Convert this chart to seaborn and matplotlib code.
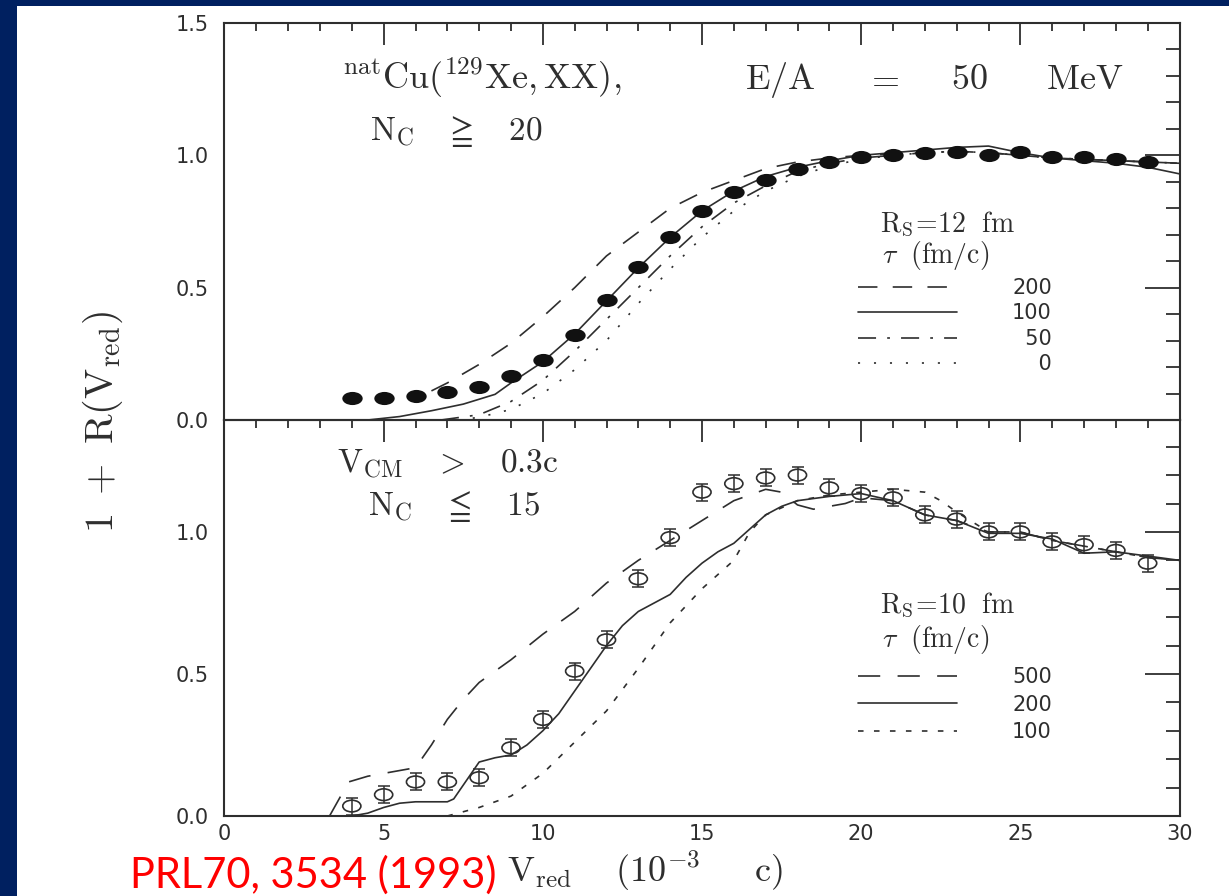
import matplotlib
matplotlib.use("Agg")
import matplotlib.pyplot as plt
import seaborn as sns
from matplotlib.path import Path
from matplotlib.patches import Rectangle
from matplotlib.ticker import MultipleLocator, FormatStrFormatter

# --- top panel: N_C >= 20, R_S = 12 fm ---
top_pts_x = [4, 5, 6, 7, 8, 9, 10, 11, 12, 13, 14, 15, 16, 17, 18, 19, 20, 21, 22, 23, 24, 25, 26, 27, 28, 29]
top_pts_y = [0.085, 0.085, 0.09, 0.105, 0.124, 0.168, 0.225, 0.32, 0.453, 0.578, 0.693, 0.79, 0.86,
             0.908, 0.948, 0.976, 0.995, 1.0, 1.008, 1.014, 1.0, 1.014, 0.995, 0.995, 0.986, 0.976]

top_x_200 = [6.5, 7, 8, 9, 10, 11, 12, 13, 14, 15, 16, 17, 18, 19, 20, 21, 22, 23, 24, 25, 26, 27, 28, 29, 30]
top_y_200 = [0.11, 0.14, 0.21, 0.29, 0.39, 0.50, 0.62, 0.71, 0.80, 0.86, 0.905, 0.95, 0.975, 0.99, 1.0,
             1.005, 1.01, 1.015, 1.01, 1.0, 0.99, 0.985, 0.98, 0.975, 0.97]
top_x_100 = [4.5, 5.5, 6.5, 7.5, 8.5, 9, 10, 11, 12, 13, 14, 15, 16, 17, 18, 19, 20, 21, 22, 23, 24, 25,
             26, 27, 28, 29, 30]
top_y_100 = [0.0, 0.013, 0.035, 0.06, 0.097, 0.14, 0.22, 0.325, 0.45, 0.575, 0.69, 0.79, 0.865, 0.92,
             0.955, 0.98, 1.0, 1.01, 1.02, 1.03, 1.035, 1.01, 0.99, 0.98, 0.97, 0.955, 0.93]
top_x_50 = [6.8, 8, 9, 10, 11, 12, 13, 14, 15, 16, 17, 18, 19, 20, 21, 22, 23, 24, 25, 26, 27, 28, 29, 30]
top_y_50 = [0.0, 0.02, 0.07, 0.15, 0.26, 0.38, 0.5, 0.62, 0.73, 0.82, 0.885, 0.94, 0.97, 0.99, 1.0,
            1.01, 1.015, 1.01, 1.0, 0.99, 0.985, 0.98, 0.975, 0.97]
top_x_0 = [7.3, 8, 9, 10, 11, 12, 13, 14, 15, 16, 17, 18, 19, 20, 21, 22, 23, 24, 25, 26, 27, 28, 29, 30]
top_y_0 = [0.0, 0.01, 0.04, 0.1, 0.19, 0.3, 0.44, 0.57, 0.69, 0.79, 0.865, 0.92, 0.96, 0.985, 1.0,
           1.01, 1.015, 1.01, 1.0, 0.99, 0.985, 0.98, 0.975, 0.97]
top_tau_labels = ["200", "100", "\u200750", "\u2007\u20070"]

# --- bottom panel: V_CM > 0.3c, N_C <= 15, R_S = 10 fm ---
bot_pts_x = [4, 5, 6, 7, 8, 9, 10, 11, 12, 13, 14, 15, 16, 17, 18, 19, 20, 21, 22, 23, 24, 25, 26, 27, 28, 29]
bot_pts_y = [0.035, 0.075, 0.12, 0.12, 0.135, 0.24, 0.34, 0.51, 0.62, 0.835, 0.98, 1.14, 1.17, 1.19,
             1.2, 1.155, 1.135, 1.12, 1.06, 1.045, 1.0, 1.0, 0.965, 0.955, 0.935, 0.89]
bot_pts_err = [0.03, 0.03, 0.03, 0.03, 0.03, 0.03, 0.03, 0.03, 0.03, 0.03, 0.03, 0.03, 0.03, 0.03,
               0.03, 0.03, 0.03, 0.03, 0.03, 0.03, 0.03, 0.03, 0.03, 0.03, 0.03, 0.03]

bot_x_500 = [3.3, 3.9, 4.5, 5.5, 6.0, 6.5, 7.0, 7.5, 8.0, 9, 10, 11, 12, 13, 14, 15, 16, 17, 17.5, 18,
             18.5, 19, 19.5, 20, 21, 22, 23, 24, 25, 26, 27, 28, 29, 30]
bot_y_500 = [0.0, 0.12, 0.14, 0.16, 0.17, 0.25, 0.34, 0.41, 0.47, 0.55, 0.64, 0.72, 0.82, 0.9, 0.97,
             1.04, 1.11, 1.15, 1.14, 1.095, 1.08, 1.09, 1.1, 1.12, 1.11, 1.06, 1.04, 1.0, 1.0, 0.97,
             0.95, 0.93, 0.91, 0.9]
bot_x_200 = [4.0, 4.5, 5, 5.5, 6, 7, 7.2, 8, 8.5, 9, 9.5, 10, 10.5, 11, 11.5, 12, 12.5, 13, 13.5, 14,
             14.5, 15, 15.5, 16, 16.5, 17, 17.5, 18, 19, 20, 21, 22, 23, 24, 25, 26, 27, 28, 29, 30]
bot_y_200 = [0.0, 0.01, 0.03, 0.045, 0.05, 0.05, 0.06, 0.19, 0.205, 0.215, 0.25, 0.3, 0.36, 0.44, 0.52,
             0.6, 0.67, 0.72, 0.75, 0.78, 0.84, 0.89, 0.93, 0.96, 1.01, 1.06, 1.09, 1.11, 1.125, 1.135,
             1.11, 1.06, 1.04, 0.995, 0.995, 0.975, 0.925, 0.93, 0.915, 0.9]
bot_x_100 = [7, 8, 9, 10, 11, 12, 13, 14, 15, 16, 16.5, 17, 18, 19, 20, 21, 22, 22.5, 23, 24, 25, 26,
             27, 28, 29, 30]
bot_y_100 = [0.0, 0.03, 0.07, 0.15, 0.26, 0.37, 0.52, 0.68, 0.8, 0.9, 1.0, 1.06, 1.11, 1.13, 1.14,
             1.15, 1.14, 1.11, 1.07, 1.0, 1.0, 0.97, 0.95, 0.93, 0.91, 0.9]
bot_tau_labels = ["500", "200", "100"]

NAVY = "#002060"
INK = "#2e2e2e"
DOT = "#111111"

sns.set_style("white")
plt.rcParams["font.family"] = ["DejaVu Sans"]
plt.rcParams["mathtext.fontset"] = "cm"
plt.rcParams["lines.scale_dashes"] = False

W, H = 1229, 896


def fx(p):
    return p / W


def fy(p):
    return 1 - p / H


fig = plt.figure(figsize=(W / 100, H / 100), dpi=100, facecolor=NAVY)
fig.patches.append(Rectangle((fx(17), 0), 1 - fx(17), fy(6), transform=fig.transFigure,
                             facecolor="white", edgecolor="none", zorder=-5))

left, right = fx(224.5), fx(1179.5)
ax1 = fig.add_axes([left, fy(420), right - left, fy(23) - fy(420)])
ax2 = fig.add_axes([left, fy(816), right - left, fy(420) - fy(816)])

# stretched dot, the scan is wider than tall
circ = Path.unit_circle()
oval = Path(circ.vertices * [1.55, 1.0], circ.codes)

LW = 1.2
top_styles = [(top_x_200, top_y_200, (0, (14, 11))),
              (top_x_100, top_y_100, "-"),
              (top_x_50, top_y_50, (0, (13, 8, 2, 8))),
              (top_x_0, top_y_0, (0, (1.5, 10)))]
top_lines = []
for xs, ys, ls in top_styles:
    sns.lineplot(x=xs, y=ys, ax=ax1, color=INK, lw=LW, linestyle=ls, estimator=None)
    top_lines.append(ax1.lines[-1])
sns.scatterplot(x=top_pts_x, y=top_pts_y, ax=ax1, marker=oval, s=215, color=DOT,
                edgecolor=DOT, linewidth=0, zorder=5)

bot_styles = [(bot_x_500, bot_y_500, (0, (16, 12.5))),
              (bot_x_200, bot_y_200, "-"),
              (bot_x_100, bot_y_100, (0, (4, 7.5)))]
bot_lines = []
for xs, ys, ls in bot_styles:
    sns.lineplot(x=xs, y=ys, ax=ax2, color=INK, lw=LW, linestyle=ls, estimator=None)
    bot_lines.append(ax2.lines[-1])
ax2.errorbar(bot_pts_x, bot_pts_y, yerr=bot_pts_err, fmt="none", ecolor=INK, elinewidth=1.1,
             capsize=4, capthick=1.1, zorder=4)
sns.scatterplot(x=bot_pts_x, y=bot_pts_y, ax=ax2, marker=oval, s=170, color=INK,
                facecolor="none", edgecolor=INK, linewidth=1.2, zorder=5)

for ax, ytop in [(ax1, 1.5), (ax2, 1.394)]:
    ax.set_xlim(0, 30)
    ax.set_ylim(0, ytop)
    ax.set_facecolor("none")
    ax.xaxis.set_major_locator(MultipleLocator(5))
    ax.xaxis.set_minor_locator(MultipleLocator(1))
    ax.yaxis.set_major_locator(MultipleLocator(0.5))
    ax.yaxis.set_minor_locator(MultipleLocator(0.1))
    ax.yaxis.set_major_formatter(FormatStrFormatter("%.1f"))
    ax.tick_params(which="both", direction="in", top=True, right=True, color=INK, width=1.3,
                   labelcolor=INK, labelsize=15)
    ax.tick_params(axis="x", which="major", length=16, pad=6)
    ax.tick_params(axis="x", which="minor", length=6)
    ax.tick_params(axis="y", which="major", length=25, pad=11)
    ax.tick_params(axis="y", which="minor", length=10)
    for sp in ax.spines.values():
        sp.set_color(INK)
        sp.set_linewidth(1.5)
    ax.set_xlabel("")
    ax.set_ylabel("")
ax1.tick_params(labelbottom=False)

# legends: line samples + tau values
leg_kw = dict(loc="upper left", bbox_transform=fig.transFigure, frameon=False, borderpad=0,
              borderaxespad=0, handlelength=4.76, handletextpad=2.64,
              prop={"family": "DejaVu Sans", "size": 15}, labelcolor=INK)
ax1.legend(handles=top_lines, labels=top_tau_labels, bbox_to_anchor=(fx(858), fy(278)),
           labelspacing=0.26, **leg_kw)
ax2.legend(handles=bot_lines, labels=bot_tau_labels, bbox_to_anchor=(fx(858), fy(667)),
           labelspacing=0.36, **leg_kw)

txt = dict(color=INK, va="baseline")
fig.text(fx(880), fy(232), r"$\mathrm{R_S}\!=\!12\ \ \mathrm{fm}$", fontsize=20, **txt)
fig.text(fx(882), fy(263), r"$\tau\ \ \mathrm{(fm/c)}$", fontsize=20, **txt)
fig.text(fx(880), fy(613), r"$\mathrm{R_S}\!=\!10\ \ \mathrm{fm}$", fontsize=20, **txt)
fig.text(fx(882), fy(647), r"$\tau\ \ \mathrm{(fm/c)}$", fontsize=20, **txt)

# reaction label, spread like the original lettering
title_parts = [(r"$^{\mathrm{nat}}\mathrm{Cu}(^{129}\mathrm{Xe,XX}),$", 482),
               (r"$\mathrm{E/A}$", 780), (r"$=$", 882), (r"$50$", 969), (r"$\mathrm{MeV}$", 1085)]
for s, xc in title_parts:
    fig.text(fx(xc), fy(89), s, fontsize=26, ha="center", **txt)

fig.text(fx(370), fy(140), r"$\mathrm{N_C}\quad\geqq\quad 20$", fontsize=24, **txt)
fig.text(fx(337), fy(473), r"$\mathrm{V_{CM}}\quad>\quad 0.3\mathrm{c}$", fontsize=24, **txt)
fig.text(fx(368), fy(515), r"$\mathrm{N_C}\quad\leqq\quad 15$", fontsize=24, **txt)

fig.text(fx(103), fy(422), r"$1\ +\ \mathrm{R(V_{red})}$", fontsize=29, rotation=90,
         ha="center", va="center", color=INK)
fig.text(fx(507), fy(882), r"$\mathrm{V_{red}}\quad\ (10^{-3}\quad\ \ \mathrm{c})$", fontsize=26,
         **txt)
fig.text(fx(130), fy(888), "PRL70, 3534 (1993)", fontsize=30, color="#ff0000",
         family=["Lato", "DejaVu Sans"], va="baseline")

fig.savefig("out.png", dpi=100, facecolor=NAVY)
